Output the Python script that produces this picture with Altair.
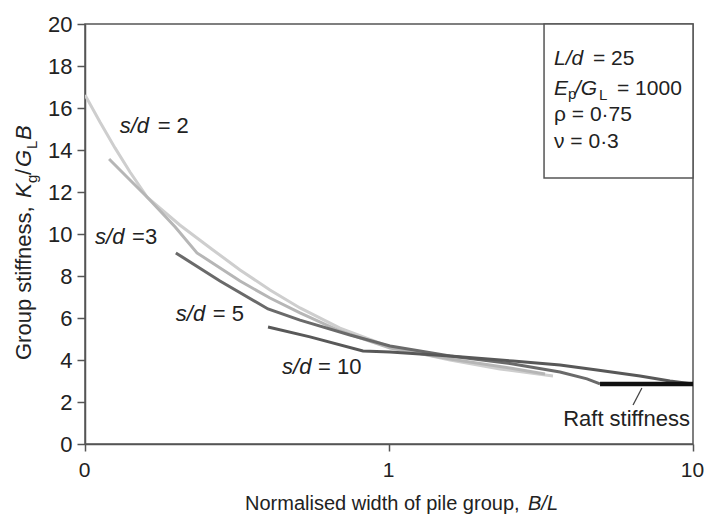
import altair as alt
import pandas as pd

# ---- data ----
sd2_x = [0.100, 0.112, 0.1255, 0.1406, 0.160, 0.205, 0.2636, 0.3236, 0.406, 0.5096, 0.690, 1.008, 1.588, 2.318, 3.463]
sd2_y = [16.62, 15.33, 14.10, 12.95, 11.76, 10.43, 9.24, 8.29, 7.33, 6.48, 5.52, 4.62, 4.00, 3.57, 3.24]

sd3_x = [0.120, 0.1406, 0.160, 0.198, 0.2335, 0.3236, 0.406, 0.5096, 0.690, 1.008, 1.588, 2.50, 3.26]
sd3_y = [13.57, 12.57, 11.76, 10.33, 9.10, 7.76, 6.95, 6.24, 5.38, 4.57, 4.05, 3.62, 3.33]

sd5_x = [0.199, 0.278, 0.400, 0.5096, 0.744, 1.008, 1.588, 2.558, 3.652, 4.48, 4.945]
sd5_y = [9.10, 7.76, 6.43, 5.90, 5.19, 4.67, 4.19, 3.81, 3.43, 3.10, 2.86]

sd10_x = [0.400, 0.5497, 0.821, 1.008, 1.588, 2.558, 3.652, 4.833, 6.695, 8.40, 10.0]
sd10_y = [5.57, 5.10, 4.43, 4.38, 4.19, 3.95, 3.76, 3.52, 3.24, 3.00, 2.86]

raft_x = [4.945, 10.0]
raft_y = [2.86, 2.86]

leader_x = [6.35, 6.79]
leader_y = [1.86, 2.67]

x_ticks = [0.1, 1, 10]
y_ticks = [0, 2, 4, 6, 8, 10, 12, 14, 16, 18, 20]

box_x = [3.236, 10.0]
box_y = [12.67, 20.0]

FONT = "Liberation Sans"
TXT = "#222222"
AX = "#555555"

xscale = alt.Scale(type="log", domain=[0.1, 10], nice=False)
yscale = alt.Scale(domain=[0, 20], nice=False, zero=False)

xaxis = alt.Axis(values=x_ticks, title="", grid=False, tickSize=7, labelPadding=8,
                 labelExpr="datum.value < 0.5 ? '0' : format(datum.value, 'd')",
                 labelFont=FONT, labelFontSize=21, labelColor=TXT,
                 domainColor=AX, tickColor=AX, domainWidth=1.5, tickWidth=1.5,
                 labelFlush=False, labelOverlap=False, labelOffset=-1)
yaxis = alt.Axis(values=y_ticks, title="", grid=False, tickSize=8, labelPadding=5,
                 labelFont=FONT, labelFontSize=22, labelColor=TXT,
                 domainColor=AX, tickColor=AX, domainWidth=1.5, tickWidth=1.5,
                 labelOverlap=False)


def X(field="x"):
    return alt.X(f"{field}:Q", scale=xscale, axis=xaxis)


def Y(field="y"):
    return alt.Y(f"{field}:Q", scale=yscale, axis=yaxis)


def line(xs, ys, color, width):
    df = pd.DataFrame({"x": xs, "y": ys, "o": list(range(len(xs)))})
    return alt.Chart(df).mark_line(color=color, strokeWidth=width, clip=True).encode(
        x=X(), y=Y(), order="o:Q")


def seg(x, y, text, dx=0, dy=0, italic=False, size=22, align="left"):
    df = pd.DataFrame({"x": [x], "y": [y]})
    kw = dict(text=text, dx=dx, dy=dy, fontSize=size, font=FONT, color=TXT,
              align=align, baseline="alphabetic")
    if italic:
        kw["fontStyle"] = "italic"
    return alt.Chart(df).mark_text(**kw).encode(x=X(), y=Y())


def pseg(px, py, text, dx=0, dy=0, italic=False, size=21, angle=0):
    df = pd.DataFrame({"a": [0]})
    kw = dict(text=text, dx=dx, dy=dy, fontSize=size, font=FONT, color=TXT,
              align="left", baseline="alphabetic")
    if italic:
        kw["fontStyle"] = "italic"
    if angle:
        kw["angle"] = angle
    return alt.Chart(df).mark_text(**kw).encode(x=alt.value(px), y=alt.value(py))


layers = []

# parameter box
box_df = pd.DataFrame({"x": [box_x[0]], "x2": [box_x[1]], "y": [box_y[0]], "y2": [box_y[1]]})
layers.append(alt.Chart(box_df).mark_rect(fill="white", stroke=AX, strokeWidth=1.5).encode(
    x=X(), x2="x2:Q", y=Y(), y2="y2:Q"))

# curves
layers.append(line(sd2_x, sd2_y, "#cecece", 3))
layers.append(line(sd3_x, sd3_y, "#b6b6b6", 3))
layers.append(line(sd5_x, sd5_y, "#6a6a6a", 3))
layers.append(line(sd10_x, sd10_y, "#585858", 3))
layers.append(line(raft_x, raft_y, "#111111", 4.5))
layers.append(line(leader_x, leader_y, "#444444", 1.3))

# curve labels
bx = 3.49
layers += [
    seg(0.130, 14.81, "s/d", italic=True), seg(0.130, 14.81, "= 2", dx=38),
    seg(0.1079, 9.52, "s/d", italic=True), seg(0.1079, 9.52, "=3", dx=37),
    seg(0.199, 5.86, "s/d", italic=True), seg(0.199, 5.86, "= 5", dx=37),
    seg(0.445, 3.33, "s/d", italic=True), seg(0.445, 3.33, "= 10", dx=36),
    seg(9.77, 0.857, "Raft stiffness", align="right"),
    # parameter box text
    seg(bx, 18.05, "L/d", italic=True, size=21), seg(bx, 18.05, "= 25", dx=39, size=21),
    seg(bx, 16.62, "E", italic=True, size=21), seg(bx, 16.62, "p", dx=14, dy=4, size=15),
    seg(bx, 16.62, "/G", dx=21, italic=True, size=21), seg(bx, 16.62, "L", dx=45, dy=5, size=15),
    seg(bx, 16.62, "= 1000", dx=63, size=21),
    seg(bx, 15.38, "ρ = 0·75", size=21),
    seg(bx, 14.10, "ν = 0·3", size=21),
]

# axis titles (rich text)
layers += [
    pseg(-54, 336, "Group stiffness,", size=22, angle=270),
    pseg(-54, 336, "K", dx=162, italic=True, size=22, angle=270),
    pseg(-54, 336, "g", dx=177, dy=6, size=15, angle=270),
    pseg(-54, 336, "/", dx=185, size=22, angle=270),
    pseg(-54, 336, "G", dx=193, italic=True, size=22, angle=270),
    pseg(-54, 336, "L", dx=211, dy=6, size=15, angle=270),
    pseg(-54, 336, "B", dx=220, italic=True, size=22, angle=270),
    pseg(160, 486, "Normalised width of pile group,", size=20),
    pseg(160, 486, "B/L", dx=283, italic=True, size=20),
]

chart = alt.layer(*layers).properties(
    width=608, height=420,
    padding={"left": 85, "top": 24, "right": 11, "bottom": 74},
    autosize="none",
    background="white",
).configure_view(stroke=AX, strokeWidth=1.5)

chart.save("out.html", embed_options={"renderer": "svg", "actions": False})
